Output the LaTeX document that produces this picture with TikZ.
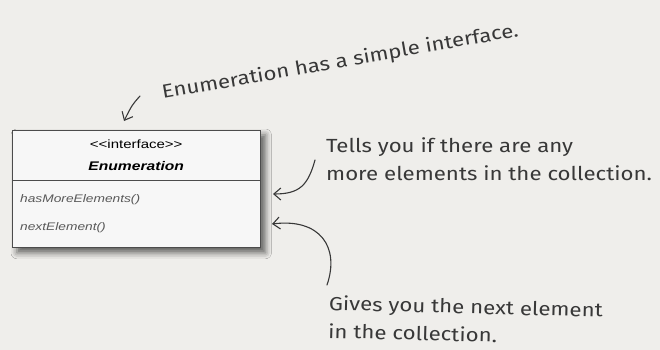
\documentclass[tikz,border=0pt]{standalone}
\usepackage{fontspec}
\newfontfamily\umlfont{Liberation Sans}[FakeStretch=1.25]
\newfontfamily\notefont{Fira Sans}[FakeStretch=1.17]
\usetikzlibrary{arrows.meta,positioning,shadows.blur,backgrounds}
\definecolor{paper}{HTML}{EFEEEB}
\definecolor{ink}{HTML}{383838}

\begin{document}
\begin{tikzpicture}[x=1pt, y=-1pt,
  note/.style={font=\notefont\fontsize{19}{28}\selectfont, text=ink,
               align=left, inner sep=0pt},
  part/.style={minimum width=248pt, inner sep=0pt, font=\umlfont},
  hand/.style={draw=ink, line width=1.1pt, line cap=round,
               -{Straight Barb[length=7pt, width=12pt]}}]
\useasboundingbox (0,0) rectangle (660,350);
\node[part, anchor=north west, minimum height=50pt, align=center,
      font=\umlfont\fontsize{12}{22}\selectfont] (ihead) at (12,130)
  {<\kern0pt<interface>\kern0pt>\\
   {\bfseries\itshape\fontsize{12.5}{22}\selectfont Enumeration}};
\node[part, below=0pt of ihead, minimum height=67pt, align=left,
      text width=232pt, text=black!65,
      font=\umlfont\itshape\fontsize{11}{28}\selectfont] (meth)
  {hasMoreElements()\\nextElement()};
\begin{scope}[on background layer]
  \fill[paper] (0,0) rectangle (660,350);
  \path[draw=black!70, line width=0.9pt, fill=white!97!black,
        blur shadow={shadow xshift=5pt, shadow yshift=-5pt,
                     shadow blur radius=6pt, shadow opacity=60}]
    (ihead.north west) rectangle (meth.south east);
\end{scope}
\draw[black!70, line width=1.2pt] (ihead.south west) -- (ihead.south east);

% notes
\node[note, rotate=10, anchor=base west] (simple) at (163,99)
  {Enumeration has a simple interface.};
\node[note, anchor=base west] (tells) at (326,180)
  {Tells you if there are any\\more elements in the collection.};
\node[note, rotate=-1.5, anchor=base west] (gives) at (328,338)
  {Gives you the next element\\in the collection.};

\coordinate (simpletail) at (140,96);
\coordinate (simpletip) at (124,121);
\coordinate (tellstail) at (315,160);
\coordinate (tellstip) at (273,194);
\coordinate (givestail) at (327,285);
\coordinate (givestip) at (272,224);
\draw[hand] (simpletail) .. controls (132,105) .. (simpletip);
\draw[hand] (tellstail) .. controls (308,185) and (300,194) .. (tellstip);
\draw[hand] (givestail) .. controls (340,247) and (320,218) .. (givestip);
\end{tikzpicture}
\end{document}
